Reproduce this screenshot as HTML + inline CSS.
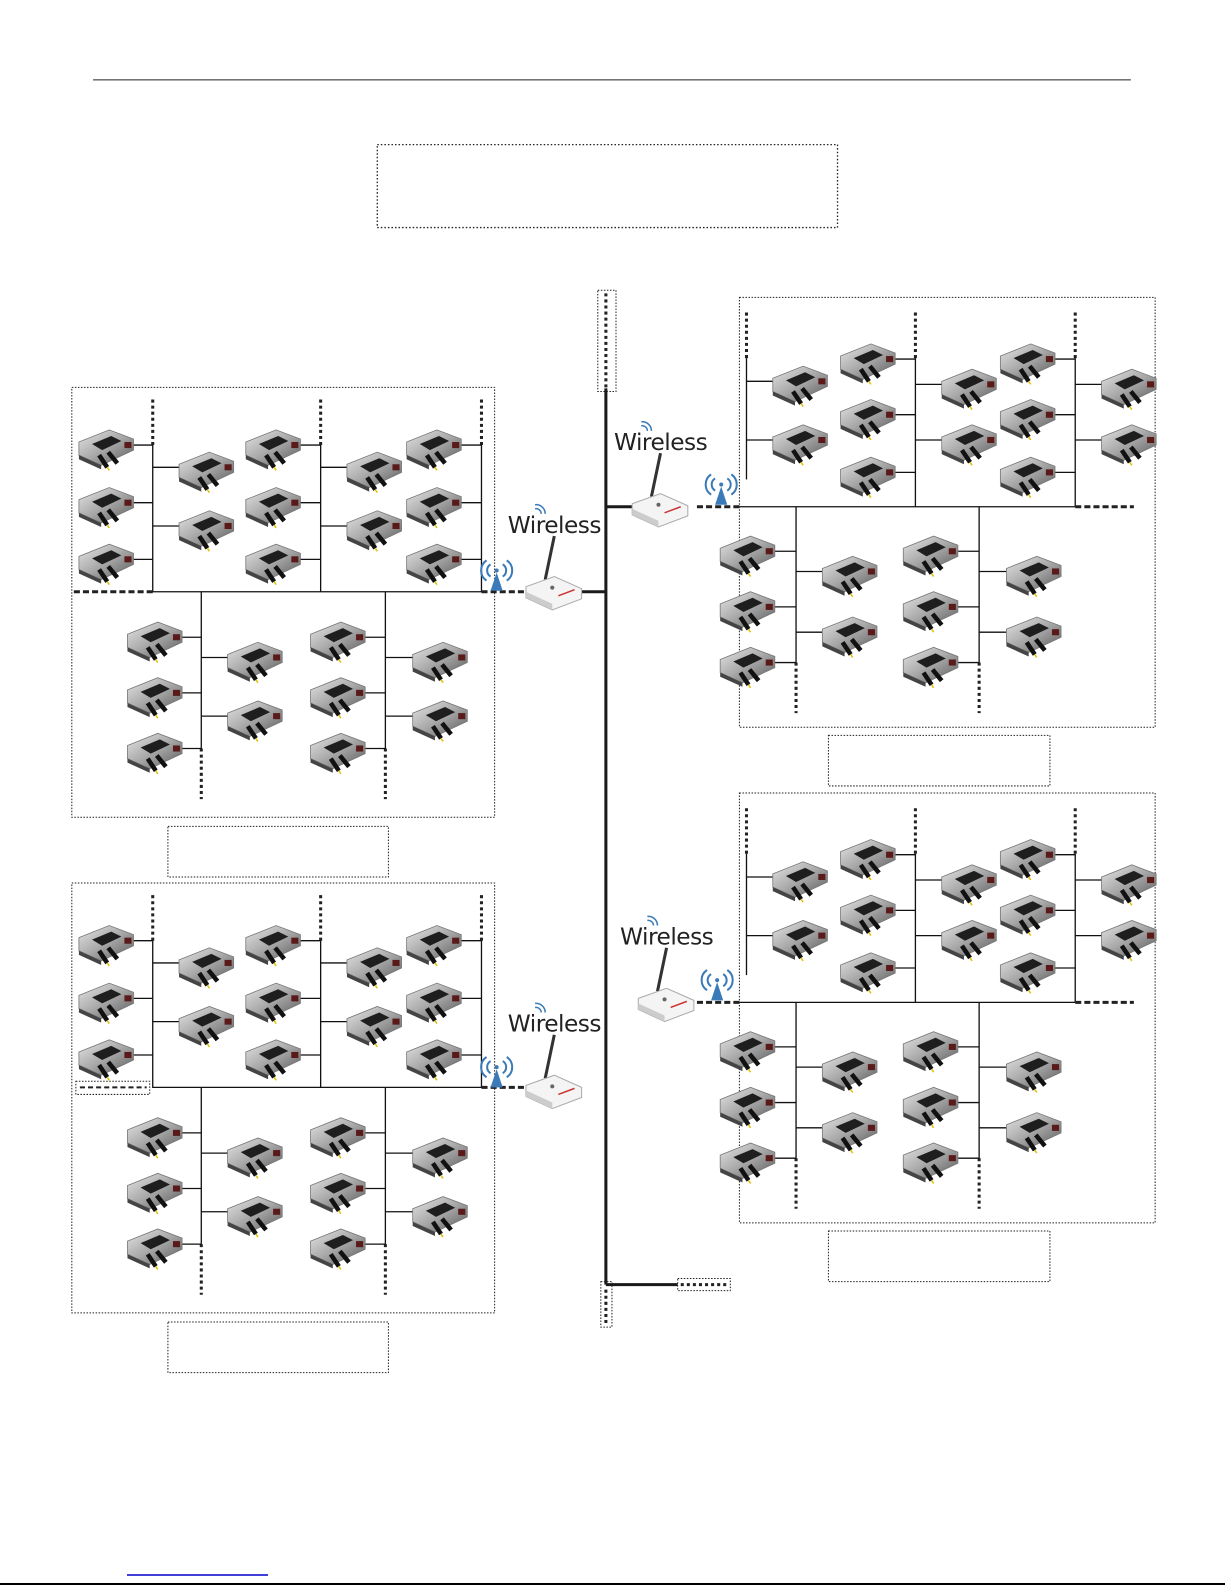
<!DOCTYPE html>
<html><head><meta charset="utf-8"><style>
html,body{margin:0;padding:0;background:#fff;}
svg{display:block;}
</style></head><body>
<svg width="1225" height="1585" viewBox="0 0 1225 1585" xmlns="http://www.w3.org/2000/svg" font-family="Liberation Sans, sans-serif">
<defs>
<linearGradient id="ig" x1="0" y1="0" x2="1" y2="1">
<stop offset="0" stop-color="#e6e6e6"/><stop offset="0.5" stop-color="#a8a8a8"/><stop offset="1" stop-color="#5a5a5a"/>
</linearGradient>
<g id="inv">
<polygon points="0,12 30,0 54,9 54,20 22,35 0,25" fill="url(#ig)" stroke="#777" stroke-width="0.8"/>
<polygon points="0,25 22,35 22,39 0,29" fill="#444"/>
<polygon points="13,14 32,6 42,11 23,20" fill="#1e1e1e"/>
<rect x="45" y="12" width="7" height="6" fill="#5a1a1a"/>
<line x1="20" y1="25" x2="28" y2="37" stroke="#111" stroke-width="4.5"/>
<line x1="29" y1="22" x2="38" y2="33" stroke="#111" stroke-width="4.5"/>
<line x1="28" y1="37" x2="30" y2="40" stroke="#e0c000" stroke-width="1.5"/>
</g>
<g id="router">
<text x="0" y="0" font-size="23" fill="#222" font-family="DejaVu Sans, sans-serif" letter-spacing="-0.5">Wireless</text>
<path d="M27,-24 a5,5 0 0 1 6,5 M27,-28 a9,9 0 0 1 10,9" stroke="#3a7ab8" stroke-width="1.5" fill="none"/>
<line x1="46" y1="3" x2="37" y2="46" stroke="#333" stroke-width="3"/>
<polygon points="18,53 46,43 73,55 73,65 44,76 18,64" fill="#f4f4f4" stroke="#aaa"/>
<polygon points="18,64 44,76 44,70 18,58" fill="#ccc"/>
<line x1="50" y1="62" x2="66" y2="56" stroke="#c33" stroke-width="1.5"/>
<circle cx="44" cy="54" r="2" fill="#666"/>
</g>
<g id="ant">
<polygon points="0,24 6,6 12,24" fill="#3a7ab8"/>
<circle cx="6" cy="4" r="2" fill="#3a7ab8"/>
<path d="M0,-2 a7,7 0 0 0 0,12 M12,-2 a7,7 0 0 1 0,12 M-4,-6 a12,12 0 0 0 0,20 M16,-6 a12,12 0 0 1 0,20" stroke="#3a7ab8" stroke-width="2" fill="none"/>
</g>
<g id="PL">
<rect x="0" y="0" width="418" height="425" fill="none" stroke="#222" stroke-width="1" stroke-dasharray="1.5,1.5"/>
<g stroke="#222" stroke-width="3" stroke-dasharray="3,3"><line x1="80" y1="12" x2="80" y2="57"/><line x1="246" y1="12" x2="246" y2="57"/><line x1="405" y1="12" x2="405" y2="57"/>
<line x1="128" y1="357" x2="128" y2="407"/><line x1="310" y1="357" x2="310" y2="407"/></g>
<g stroke="#111" stroke-width="1.3" fill="none">
<polyline points="80,57 80,202 405,202 405,57"/><line x1="246" y1="57" x2="246" y2="202"/>
<line x1="128" y1="202" x2="128" y2="357"/><line x1="310" y1="202" x2="310" y2="357"/>
<line x1="55" y1="57" x2="80" y2="57"/><line x1="55" y1="114" x2="80" y2="114"/><line x1="55" y1="170" x2="80" y2="170"/>
<line x1="80" y1="79" x2="110" y2="79"/><line x1="80" y1="137" x2="110" y2="137"/>
<line x1="222" y1="57" x2="246" y2="57"/><line x1="222" y1="114" x2="246" y2="114"/><line x1="222" y1="170" x2="246" y2="170"/>
<line x1="246" y1="79" x2="276" y2="79"/><line x1="246" y1="137" x2="276" y2="137"/>
<line x1="382" y1="57" x2="405" y2="57"/><line x1="382" y1="114" x2="405" y2="114"/><line x1="382" y1="170" x2="405" y2="170"/>
<line x1="103" y1="247" x2="128" y2="247"/><line x1="103" y1="302" x2="128" y2="302"/><line x1="103" y1="357" x2="128" y2="357"/>
<line x1="128" y1="267" x2="158" y2="267"/><line x1="128" y1="325" x2="158" y2="325"/>
<line x1="285" y1="247" x2="310" y2="247"/><line x1="285" y1="302" x2="310" y2="302"/><line x1="285" y1="357" x2="310" y2="357"/>
<line x1="310" y1="267" x2="340" y2="267"/><line x1="310" y1="325" x2="340" y2="325"/>
</g>
<line x1="405" y1="202" x2="450" y2="202" stroke="#222" stroke-width="3" stroke-dasharray="6,3"/>
<use href="#inv" x="7" y="42"/><use href="#inv" x="7" y="99"/><use href="#inv" x="7" y="155"/>
<use href="#inv" x="106" y="64"/><use href="#inv" x="106" y="122"/>
<use href="#inv" x="172" y="42"/><use href="#inv" x="172" y="99"/><use href="#inv" x="172" y="155"/>
<use href="#inv" x="272" y="64"/><use href="#inv" x="272" y="122"/>
<use href="#inv" x="331" y="42"/><use href="#inv" x="331" y="99"/><use href="#inv" x="331" y="155"/>
<use href="#inv" x="55" y="232"/><use href="#inv" x="55" y="287"/><use href="#inv" x="55" y="342"/>
<use href="#inv" x="154" y="252"/><use href="#inv" x="154" y="310"/>
<use href="#inv" x="236" y="232"/><use href="#inv" x="236" y="287"/><use href="#inv" x="236" y="342"/>
<use href="#inv" x="337" y="252"/><use href="#inv" x="337" y="310"/>
<rect x="95" y="434" width="218" height="50" fill="none" stroke="#222" stroke-dasharray="1.5,1.5"/>
</g>
<g id="PR">
<rect x="0" y="0" width="411" height="425" fill="none" stroke="#222" stroke-width="1" stroke-dasharray="1.5,1.5"/>
<g stroke="#222" stroke-width="3" stroke-dasharray="3,3"><line x1="7" y1="15" x2="7" y2="60"/><line x1="174" y1="15" x2="174" y2="60"/><line x1="332" y1="15" x2="332" y2="60"/>
<line x1="56" y1="361" x2="56" y2="411"/><line x1="237" y1="361" x2="237" y2="411"/></g>
<g stroke="#111" stroke-width="1.3" fill="none">
<line x1="7" y1="60" x2="7" y2="180"/><line x1="174" y1="60" x2="174" y2="207"/><line x1="332" y1="60" x2="332" y2="207"/>
<line x1="0" y1="207" x2="332" y2="207"/>
<line x1="56" y1="207" x2="56" y2="361"/><line x1="237" y1="207" x2="237" y2="361"/>
<line x1="7" y1="83" x2="37" y2="83"/><line x1="7" y1="141" x2="37" y2="141"/>
<line x1="150" y1="61" x2="174" y2="61"/><line x1="150" y1="116" x2="174" y2="116"/><line x1="150" y1="173" x2="174" y2="173"/>
<line x1="174" y1="86" x2="204" y2="86"/><line x1="174" y1="141" x2="204" y2="141"/>
<line x1="308" y1="61" x2="332" y2="61"/><line x1="308" y1="116" x2="332" y2="116"/><line x1="308" y1="173" x2="332" y2="173"/>
<line x1="332" y1="86" x2="362" y2="86"/><line x1="332" y1="141" x2="362" y2="141"/>
<line x1="31" y1="251" x2="56" y2="251"/><line x1="31" y1="306" x2="56" y2="306"/><line x1="31" y1="361" x2="56" y2="361"/>
<line x1="56" y1="271" x2="86" y2="271"/><line x1="56" y1="331" x2="86" y2="331"/>
<line x1="212" y1="251" x2="237" y2="251"/><line x1="212" y1="306" x2="237" y2="306"/><line x1="212" y1="361" x2="237" y2="361"/>
<line x1="237" y1="271" x2="267" y2="271"/><line x1="237" y1="331" x2="267" y2="331"/>
</g>
<line x1="332" y1="207" x2="390" y2="207" stroke="#222" stroke-width="3" stroke-dasharray="6,3"/>
<line x1="-42" y1="207" x2="0" y2="207" stroke="#222" stroke-width="3" stroke-dasharray="6,3"/>
<use href="#inv" x="33" y="68"/><use href="#inv" x="33" y="126"/>
<use href="#inv" x="100" y="46"/><use href="#inv" x="100" y="101"/><use href="#inv" x="100" y="158"/>
<use href="#inv" x="200" y="71"/><use href="#inv" x="200" y="126"/>
<use href="#inv" x="258" y="46"/><use href="#inv" x="258" y="101"/><use href="#inv" x="258" y="158"/>
<use href="#inv" x="358" y="71"/><use href="#inv" x="358" y="126"/>
<use href="#inv" x="-19" y="236"/><use href="#inv" x="-19" y="291"/><use href="#inv" x="-19" y="346"/>
<use href="#inv" x="82" y="256"/><use href="#inv" x="82" y="316"/>
<use href="#inv" x="162" y="236"/><use href="#inv" x="162" y="291"/><use href="#inv" x="162" y="346"/>
<use href="#inv" x="264" y="256"/><use href="#inv" x="264" y="316"/>
<rect x="88" y="433" width="219" height="50" fill="none" stroke="#222" stroke-dasharray="1.5,1.5"/>
</g>
</defs>
<g transform="scale(1.0115)">
<line x1="92" y1="79" x2="1118" y2="79" stroke="#222" stroke-width="1"/>
<rect x="373" y="143" width="455" height="82" fill="none" stroke="#222" stroke-width="1.3" stroke-dasharray="1.5,2"/>
<rect x="591" y="287" width="18" height="100" fill="none" stroke="#222" stroke-dasharray="1.5,1.5"/>
<line x1="599" y1="290" x2="599" y2="384" stroke="#222" stroke-width="3" stroke-dasharray="3,3"/>
<line x1="599" y1="384" x2="599" y2="1270" stroke="#1a1a1a" stroke-width="3"/>
<line x1="599" y1="1270" x2="670" y2="1270" stroke="#1a1a1a" stroke-width="3"/>
<rect x="670" y="1264" width="52" height="12" fill="none" stroke="#222" stroke-dasharray="1.5,1.5"/>
<line x1="673" y1="1270" x2="719" y2="1270" stroke="#222" stroke-width="3" stroke-dasharray="3,3"/>
<rect x="594" y="1267" width="11" height="45" fill="none" stroke="#222" stroke-dasharray="1.5,1.5"/>
<line x1="599" y1="1275" x2="599" y2="1310" stroke="#222" stroke-width="3" stroke-dasharray="3,3"/>
<line x1="573" y1="585" x2="599" y2="585" stroke="#1a1a1a" stroke-width="3"/>
<line x1="599" y1="501" x2="627" y2="501" stroke="#1a1a1a" stroke-width="3"/>
<use href="#PL" x="71" y="383"/>
<use href="#PL" x="71" y="873"/>
<line x1="73" y1="585" x2="151" y2="585" stroke="#222" stroke-width="3" stroke-dasharray="6,3"/>
<rect x="75" y="1069" width="73" height="13" fill="#fff" stroke="#222" stroke-dasharray="1.5,1.5"/>
<line x1="79" y1="1075" x2="145" y2="1075" stroke="#222" stroke-width="2" stroke-dasharray="5,3"/>
<use href="#PR" x="731" y="294"/>
<use href="#PR" x="731" y="784"/>
<use href="#router" x="502" y="527"/>
<use href="#ant" x="485" y="560"/>
<use href="#router" x="607" y="445"/>
<use href="#ant" x="707" y="475"/>
<use href="#router" x="502" y="1020"/>
<use href="#ant" x="485" y="1051"/>
<use href="#router" x="613" y="934"/>
<use href="#ant" x="703" y="965"/>
</g>
<line x1="127" y1="1575" x2="268" y2="1575" stroke="#0000cc" stroke-width="1.5"/>
<line x1="0" y1="1584" x2="1225" y2="1584" stroke="#000" stroke-width="2"/>
</svg>
</body></html>
